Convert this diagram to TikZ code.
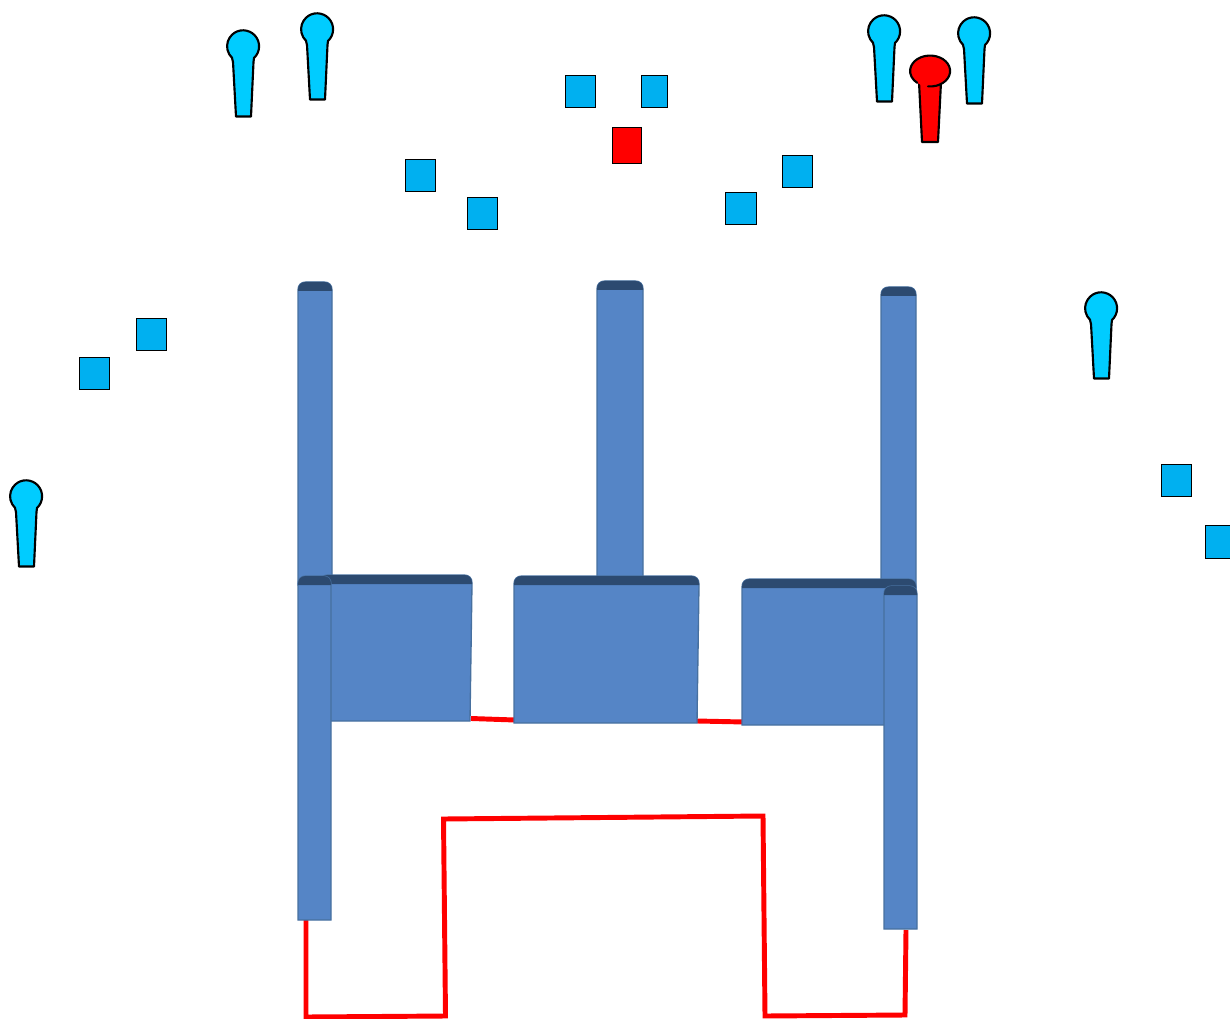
\documentclass[tikz,border=0pt]{standalone}
\definecolor{pinblue}{HTML}{00CCFF}
\definecolor{sqblue}{HTML}{00B0F0}
\definecolor{barblue}{HTML}{5585C6}
\definecolor{baredge}{HTML}{47709F}
\definecolor{barcap}{HTML}{2C4A70}
\tikzset{
  x=0.75pt,y=-0.75pt,
  pinshape/.style={draw=black,line width=1.6pt,fill=#1,line join=round},
  square/.style={draw=black,line width=0.4pt,fill=#1},
  wire/.style={draw=red,line width=3.7pt,line join=miter},
  slab/.style={draw=baredge,line width=1pt,fill=barblue},
}
% bar: left x, top y, right x, bottom y, bottom left x, bottom right x
\newcommand{\slabbar}[6]{%
  \path[slab] (#1,#4) -- (#1,#2+8) .. controls (#1,#2+3) and (#1+3,#2) .. (#1+8,#2) -- (#3-8,#2) .. controls (#3-3,#2) and (#3,#2+3) .. (#3,#2+8) -- (#6,#4) -- (#5,#4) -- cycle;
  \fill[barcap] (#1,#2+9) -- (#1,#2+8) .. controls (#1,#2+3) and (#1+3,#2) .. (#1+8,#2) -- (#3-8,#2) .. controls (#3-3,#2) and (#3,#2+3) .. (#3,#2+8) -- (#3,#2+9) -- cycle;
}
\newcommand{\pinmark}[2]{%
  \path[pinshape=pinblue] (#1-11,#2+12) -- (#1-10,#2+16) -- (#1-7,#2+70.5) -- (#1+8,#2+70.5) -- (#1+10.5,#2+16) -- (#1+11,#2+12)
    arc[start angle=-47,end angle=227,radius=12pt] -- cycle;
}
\begin{document}
\begin{tikzpicture}
\useasboundingbox (0,0) rectangle (1230,1019);
\clip (0,0) rectangle (1230,1019);
% red wires
\draw[wire] (471,718.5) -- (515,720);
\draw[wire] (697,721) -- (744,722);
\draw[wire] (306,920) -- (306,1017) -- (445.5,1016) -- (443.5,819) -- (763,816) -- (765,1016) -- (905,1015) -- (906,930);
% upper bars
\slabbar{298}{282}{332}{585}{298}{332}
\slabbar{597}{281}{643}{585}{597}{643}
\slabbar{881}{287}{916}{595}{881}{916}
% plates
\slabbar{320}{575}{472}{721}{320}{470}
\slabbar{514}{576}{699}{723}{515.5}{697}
\slabbar{742}{579}{916}{725}{744}{900}
% lower bars
\slabbar{298}{576}{331}{920}{298}{331}
\slabbar{884}{586}{917}{929}{884}{917}
% squares
\foreach \a/\b/\c/\d in {565/75/596/108,641/75/668/108,405/159/436/192,467/197/498/230,725/192/757/225,782/155/813/188,136/318/167/351,79/357/110/390,1161/464/1192/497,1205/525/1240/559}
  \path[square=sqblue] (\a,\b) rectangle (\c-0.7,\d-0.7);
\path[square=red] (612,127) rectangle (641.5,163);
% pins
\pinmark{243}{46}
\pinmark{317}{29}
\pinmark{884}{31}
\pinmark{974}{33}
\pinmark{1101}{308}
\pinmark{26}{496}
% red pin
\path[pinshape=red] (919,82) -- (922,142) -- (938,142) -- (941,82) -- cycle;
\fill[red] (930,71) ellipse [x radius=20,y radius=15.5];
\draw[black,line width=1.6pt,line cap=round] (928,86.4) arc[start angle=-96,end angle=230,x radius=15pt,y radius=11.6pt];
\end{tikzpicture}
\end{document}
